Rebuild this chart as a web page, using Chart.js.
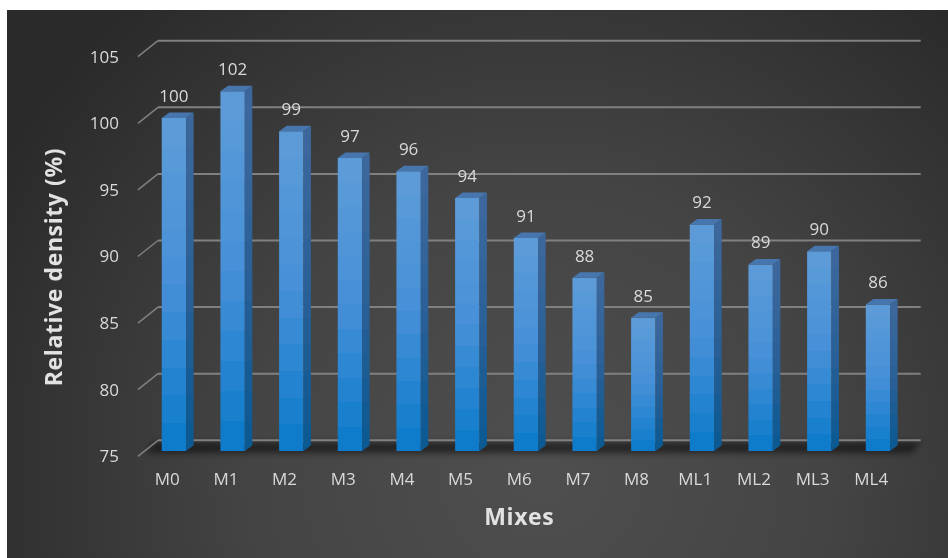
<!DOCTYPE html>
<html>
<head>
<meta charset="utf-8">
<script src="https://cdn.jsdelivr.net/npm/chart.js@4"></script>
<style>
  html, body { margin: 0; padding: 0; background: #ffffff; }
  #wrap { width: 948px; height: 558px; }
</style>
</head>
<body>
<div id="wrap"><canvas id="c" width="948" height="558"></canvas></div>
<script>
// Categories and measured values
const mixes = ['M0', 'M1', 'M2', 'M3', 'M4', 'M5', 'M6', 'M7', 'M8', 'ML1', 'ML2', 'ML3', 'ML4'];
const relativeDensity = [100, 102, 99, 97, 96, 94, 91, 88, 85, 92, 89, 90, 86];
const yTicks = [75, 80, 85, 90, 95, 100, 105];
const yAxisTitle = 'Relative density (%)';
const xAxisTitle = 'Mixes';

// 3D look: offsets of the back wall and the front edge relative to the bar plane
const BACK = { dx: 13.4, dy: -10.7 };
const FRONT = { dx: -6.7, dy: 5.3 };
const SIDE = { dx: 7.5, dy: -5.5 };
const TEXT = '#d9d9d9';
const FONT = '"Open Sans", "DejaVu Sans", sans-serif';

function banded(ctx, y0, y1, stops, bands) {
  const g = ctx.createLinearGradient(0, y0, 0, y1);
  const lerp = (a, b, t) => a + (b - a) * t;
  const col = (t) => {
    let i = 0;
    while (i < stops.length - 2 && t > stops[i + 1][0]) i++;
    const [ta, ca] = stops[i], [tb, cb] = stops[i + 1];
    const u = Math.min(1, Math.max(0, (t - ta) / (tb - ta)));
    return 'rgb(' + [0, 1, 2].map(k => Math.round(lerp(ca[k], cb[k], u))).join(',') + ')';
  };
  for (let b = 0; b < bands; b++) {
    const c = col((b + 0.5) / bands);
    g.addColorStop(b / bands, c);
    g.addColorStop((b + 1) / bands - 0.0001, c);
  }
  return g;
}
const FRONT_STOPS = [[0, [94, 156, 216]], [0.5, [70, 144, 216]], [1, [10, 122, 202]]];
const SIDE_STOPS = [[0, [60, 104, 156]], [0.5, [42, 96, 150]], [1, [10, 88, 146]]];

const threeD = {
  id: 'threeD',
  beforeDraw(chart) {
    const { ctx, chartArea: a, scales: { x, y } } = chart;
    ctx.save();
    // page and panel background
    ctx.fillStyle = '#ffffff';
    ctx.fillRect(0, 0, chart.width, chart.height);
    const rg = ctx.createRadialGradient(540, 470, 20, 540, 470, 620);
    rg.addColorStop(0, '#4e4e4e');
    rg.addColorStop(0.45, '#444444');
    rg.addColorStop(1, '#2a2a2a');
    ctx.fillStyle = rg;
    ctx.fillRect(7, 10, chart.width - 7, chart.height - 10);

    // floor shadow along the base of the bars
    const yb = y.getPixelForValue(yTicks[0]);
    ctx.save();
    ctx.filter = 'blur(3px)';
    ctx.fillStyle = 'rgba(0,0,0,0.5)';
    ctx.beginPath();
    ctx.moveTo(a.left + BACK.dx - 4, yb + BACK.dy + 2);
    ctx.lineTo(a.right + BACK.dx, yb + BACK.dy + 2);
    ctx.lineTo(a.right + 4, yb + 2);
    ctx.lineTo(a.left + FRONT.dx + 8, yb + 2);
    ctx.closePath();
    ctx.fill();
    ctx.restore();

    // gridlines on the back wall, with the diagonal from the front edge
    ctx.strokeStyle = '#808080';
    yTicks.forEach(v => {
      const py = y.getPixelForValue(v);
      ctx.lineWidth = 2;
      ctx.beginPath();
      ctx.moveTo(a.left + BACK.dx, py + BACK.dy);
      ctx.lineTo(a.right + BACK.dx, py + BACK.dy);
      ctx.stroke();
      ctx.lineWidth = 1.5;
      ctx.beginPath();
      ctx.moveTo(a.left + FRONT.dx, py + FRONT.dy);
      ctx.lineTo(a.left + BACK.dx, py + BACK.dy);
      ctx.stroke();
    });

    // tick labels
    ctx.fillStyle = TEXT;
    ctx.font = '17px ' + FONT;
    ctx.textAlign = 'right';
    ctx.textBaseline = 'middle';
    yTicks.forEach(v => {
      ctx.fillText(String(v), a.left + FRONT.dx - 19, y.getPixelForValue(v) + FRONT.dy + 1);
    });
    ctx.textAlign = 'center';
    mixes.forEach((m, i) => {
      ctx.fillText(m, x.getPixelForValue(i) + FRONT.dx, 480);
    });

    // axis titles
    ctx.font = 'bold 23px ' + FONT;
    ctx.fillStyle = '#e2e2e2';
    ctx.letterSpacing = '0.6px';
    ctx.fillText(xAxisTitle, (a.left + a.right) / 2 + FRONT.dx, 518);
    ctx.save();
    ctx.translate(55, 267);
    ctx.rotate(-Math.PI / 2);
    ctx.fillText(yAxisTitle, 0, 0);
    ctx.restore();
    ctx.restore();
  },
  afterDatasetsDraw(chart) {
    const { ctx } = chart;
    const meta = chart.getDatasetMeta(0);
    ctx.save();
    meta.data.forEach((bar, i) => {
      const { x: cx, y: top, base, width: w } = bar.getProps(['x', 'y', 'base', 'width'], true);
      const l = cx - w / 2, r = cx + w / 2;
      // side face
      ctx.fillStyle = banded(ctx, top, base, SIDE_STOPS, 12);
      ctx.beginPath();
      ctx.moveTo(r, top);
      ctx.lineTo(r + SIDE.dx, top + SIDE.dy);
      ctx.lineTo(r + SIDE.dx, base + SIDE.dy);
      ctx.lineTo(r, base);
      ctx.closePath();
      ctx.fill();
      // top face
      ctx.fillStyle = '#4676ad';
      ctx.beginPath();
      ctx.moveTo(l, top);
      ctx.lineTo(l + SIDE.dx, top + SIDE.dy);
      ctx.lineTo(r + SIDE.dx, top + SIDE.dy);
      ctx.lineTo(r, top);
      ctx.closePath();
      ctx.fill();
      // value label
      ctx.fillStyle = TEXT;
      ctx.font = '17px ' + FONT;
      ctx.textAlign = 'center';
      ctx.textBaseline = 'middle';
      ctx.fillText(String(relativeDensity[i]), cx, top - 21);
    });
    ctx.restore();
  }
};

new Chart(document.getElementById('c'), {
  type: 'bar',
  data: {
    labels: mixes,
    datasets: [{
      data: relativeDensity,
      base: yTicks[0],
      barPercentage: 0.415,
      categoryPercentage: 1,
      borderWidth: 0,
      backgroundColor(context) {
        const chart = context.chart;
        if (!chart.chartArea || context.type !== 'data') return '#4a90d8';
        const y = chart.scales.y;
        const top = y.getPixelForValue(context.raw);
        const bottom = y.getPixelForValue(yTicks[0]);
        return banded(chart.ctx, top, bottom, FRONT_STOPS, 12);
      }
    }]
  },
  options: {
    responsive: false,
    devicePixelRatio: 1,
    animation: false,
    layout: { padding: { left: 144.6, right: 40.7, top: 51.4, bottom: 107 } },
    plugins: { legend: { display: false }, tooltip: { enabled: false } },
    scales: {
      x: { display: false, offset: true },
      y: { display: false, min: yTicks[0], max: yTicks[yTicks.length - 1] }
    }
  },
  plugins: [threeD]
});
</script>
</body>
</html>
